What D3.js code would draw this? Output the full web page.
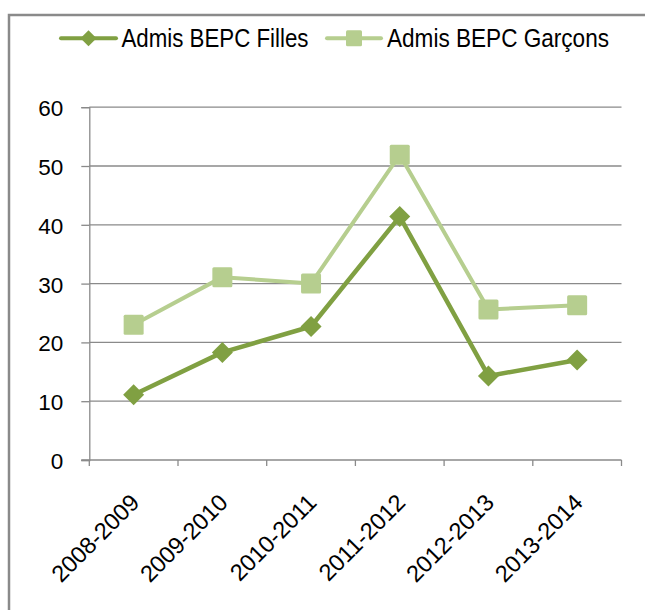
<!DOCTYPE html>
<html>
<head>
<meta charset="utf-8">
<script src="https://cdn.jsdelivr.net/npm/d3@7"></script>
<style>
  body { margin: 0; background: #fff; }
  text { font-family: "Liberation Sans", Arial, sans-serif; fill: #000; }
</style>
</head>
<body>
<script>
// données du graphique
var annees = ["2008-2009", "2009-2010", "2010-2011", "2011-2012", "2012-2013", "2013-2014"];
var filles = [11.1, 18.3, 22.7, 41.4, 14.3, 17.0];
var garcons = [23.0, 31.1, 30.0, 51.9, 25.6, 26.3];
var yTicks = [0, 10, 20, 30, 40, 50, 60];

var series = [
  { name: "Admis BEPC Filles", values: filles, color: "#80a042", shape: "diamond", width: 4.5 },
  { name: "Admis BEPC Garçons", values: garcons, color: "#b6ce8f", shape: "square", width: 4 }
];

var W = 645, H = 610;
var svg = d3.select("body").append("svg")
  .attr("width", W)
  .attr("height", H);

// cadre
svg.append("rect")
  .attr("x", 9).attr("y", 15)
  .attr("width", 800).attr("height", 800)
  .attr("fill", "none")
  .attr("stroke", "#8a8a8a")
  .attr("stroke-width", 2.5);

var plotLeft = 89.3, plotRight = 621.5, plotTop = 107.2, plotBottom = 460;

var x = d3.scaleBand().domain(annees).range([plotLeft, plotRight]);
var y = d3.scaleLinear().domain([0, 60]).range([plotBottom, plotTop]);

// grille
svg.append("g").selectAll("line")
  .data(yTicks.filter(function(d){ return d > 0; }))
  .enter().append("line")
  .attr("x1", plotLeft).attr("x2", plotRight)
  .attr("y1", function(d){ return y(d); })
  .attr("y2", function(d){ return y(d); })
  .attr("stroke", "#8a8a8a")
  .attr("stroke-width", 1.3);

// axe Y
var yAxis = svg.append("g")
  .attr("transform", "translate(" + plotLeft + ",0)")
  .call(d3.axisLeft(y).tickValues(yTicks).tickSize(8).tickPadding(18));
yAxis.select(".domain").attr("stroke", "#8a8a8a").attr("stroke-width", 1.3);
yAxis.selectAll(".tick line").attr("stroke", "#8a8a8a").attr("stroke-width", 1.3);
yAxis.selectAll(".tick text")
  .attr("font-size", "22.5px")
  .attr("font-family", "Liberation Sans, Arial, sans-serif")
  .attr("x", -26)
  .attr("dy", "8.5px")
  .attr("fill", "#000");

// axe X
var xg = svg.append("g").attr("transform", "translate(0," + plotBottom + ")");
xg.append("line")
  .attr("x1", plotLeft - 8).attr("x2", plotRight)
  .attr("stroke", "#8a8a8a").attr("stroke-width", 1.3);
var bounds = annees.map(function(d){ return x(d); }).concat([plotRight]);
xg.selectAll(".xt").data(bounds).enter().append("line")
  .attr("x1", function(d){ return d; }).attr("x2", function(d){ return d; })
  .attr("y1", 0).attr("y2", 6)
  .attr("stroke", "#8a8a8a").attr("stroke-width", 1.3);

svg.append("g").selectAll("text")
  .data(annees)
  .enter().append("text")
  .attr("transform", function(d){
    return "translate(" + (x(d) + x.bandwidth() / 2 + 7) + ",504) rotate(-45)";
  })
  .attr("text-anchor", "end")
  .attr("font-size", "23.5px")
  .text(function(d){ return d; });

// marqueurs
function marker(sel, shape, color, size) {
  if (shape === "diamond") {
    var h = size / 2;
    sel.append("path")
      .attr("d", "M0," + (-h) + "L" + h + ",0L0," + h + "L" + (-h) + ",0Z")
      .attr("fill", color);
  } else {
    sel.append("rect")
      .attr("x", -size / 2).attr("y", -size / 2)
      .attr("width", size).attr("height", size)
      .attr("rx", 1.5)
      .attr("fill", color);
  }
}

var line = d3.line()
  .x(function(d, i){ return x(annees[i]) + x.bandwidth() / 2; })
  .y(function(d){ return y(d); });

series.slice().reverse().forEach(function(s){
  svg.append("path")
    .datum(s.values)
    .attr("d", line)
    .attr("fill", "none")
    .attr("stroke", s.color)
    .attr("stroke-width", s.width)
    .attr("stroke-linejoin", "round");
  s.values.forEach(function(v, i){
    var g = svg.append("g")
      .attr("transform", "translate(" + (x(annees[i]) + x.bandwidth() / 2) + "," + y(v) + ")");
    marker(g, s.shape, s.color, s.shape === "diamond" ? 21 : 20);
  });
});

// légende
var legendPos = [
  { x1: 61, x2: 116, tx: 121.5, tw: 187 },
  { x1: 327, x2: 381, tx: 387, tw: 222 }
];
series.forEach(function(s, i){
  var p = legendPos[i];
  var g = svg.append("g");
  g.append("line")
    .attr("x1", p.x1).attr("x2", p.x2)
    .attr("y1", 38.3).attr("y2", 38.3)
    .attr("stroke", s.color)
    .attr("stroke-width", 4)
    .attr("stroke-linecap", "round");
  var m = g.append("g").attr("transform", "translate(" + ((p.x1 + p.x2) / 2) + ",38.3)");
  marker(m, s.shape, s.color, 16);
  g.append("text")
    .attr("x", p.tx).attr("y", 46.7)
    .attr("font-size", "26px")
    .attr("textLength", p.tw)
    .attr("lengthAdjust", "spacingAndGlyphs")
    .text(s.name);
});
</script>
</body>
</html>
